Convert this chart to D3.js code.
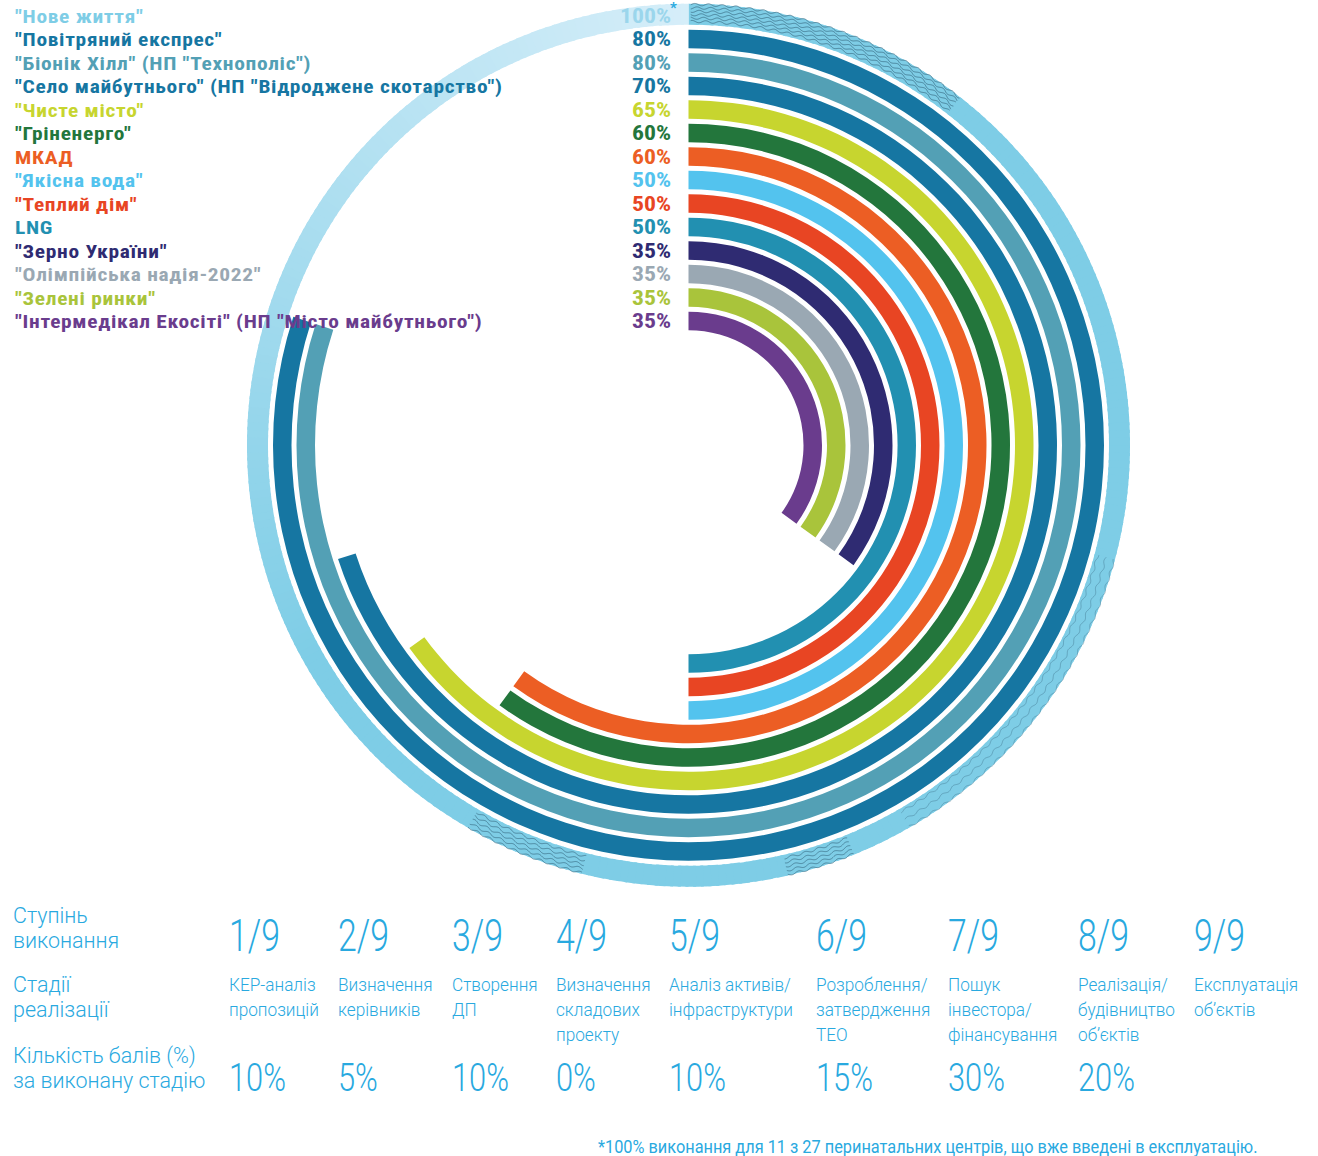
<!DOCTYPE html>
<html>
<head>
<meta charset="utf-8">
<title>Ступінь виконання проектів</title>
<script src="https://cdn.jsdelivr.net/npm/d3@7"></script>
<style>
  body { margin: 0; background: #fff; }
  svg { display: block; }
  .lbl { font-family: "Liberation Sans Narrow", "Roboto Condensed", "Liberation Sans", Arial, sans-serif; font-weight: bold; }
  .tbl { font-family: Roboto, "Liberation Sans Narrow", "Liberation Sans", sans-serif; font-weight: 300; fill: #29a9df; }
</style>
</head>
<body>
<script>
// ---- data ----
var projects = [
  '"Нове життя"',
  '"Повітряний експрес"',
  '"Біонік Хілл" (НП "Технополіс")',
  '"Село майбутнього" (НП "Відроджене скотарство")',
  '"Чисте місто"',
  '"Гріненерго"',
  'МКАД',
  '"Якісна вода"',
  '"Теплий дім"',
  'LNG',
  '"Зерно України"',
  '"Олімпійська надія-2022"',
  '"Зелені ринки"',
  '"Інтермедікал Екосіті" (НП "Місто майбутнього")'
];
var percents = [100, 80, 80, 70, 65, 60, 60, 50, 50, 50, 35, 35, 35, 35];
var colors = ["#7ecde6", "#1676a2", "#53a0b5", "#1676a2", "#c7d52f", "#23763c", "#ec5e24",
              "#53c3ee", "#e84523", "#2290b1", "#2f2b72", "#9aa8b3", "#a9c43b", "#6a3c8d"];

var rowTitles = [["Ступінь", "виконання"], ["Стадії", "реалізації"], ["Кількість балів (%)", "за виконану стадію"]];
var steps = ["1/9", "2/9", "3/9", "4/9", "5/9", "6/9", "7/9", "8/9", "9/9"];
var stages = [
  ["КЕР-аналіз", "пропозицій"],
  ["Визначення", "керівників"],
  ["Створення", "ДП"],
  ["Визначення", "складових", "проекту"],
  ["Аналіз активів/", "інфраструктури"],
  ["Розроблення/", "затвердження", "ТЕО"],
  ["Пошук", "інвестора/", "фінансування"],
  ["Реалізація/", "будівництво", "об’єктів"],
  ["Експлуатація", "об’єктів"]
];
var stagePoints = ["10%", "5%", "10%", "0%", "10%", "15%", "30%", "20%", ""];
var footnote = "*100% виконання для 11 з 27 перинатальних центрів, що вже введені в експлуатацію.";

// ---- layout ----
var W = 1318, H = 1156;
var cx = 688.5, cy = 445.25;
var band = 18.5;
var colX = [229, 338, 452, 556, 669, 816, 948, 1078, 1194];

var svg = d3.select("body").append("svg").attr("width", W).attr("height", H);
svg.append("rect").attr("width", W).attr("height", H).attr("fill", "#fff");

var angle = d3.scaleLinear().domain([0, 100]).range([0, 2 * Math.PI]);
var radius = d3.scalePoint().domain(projects).range([429.75, 124.25]);

var chart = svg.append("g").attr("transform", "translate(" + cx + "," + cy + ")");

// outer ring (100%) drawn as small pieces so it can fade towards the end
var outerR = radius(projects[0]);
var fade = d3.interpolateRgb("#7ecde6", "#d6eef9");
var ringArc = d3.arc().innerRadius(outerR - 9.25).outerRadius(outerR + 11.75);
var pieces = d3.range(0, 360, 1);
chart.append("g").selectAll("path").data(pieces).join("path")
  .attr("d", function (d) {
    return ringArc({ startAngle: angle(d / 3.6), endAngle: Math.min(angle((d + 1.4) / 3.6), 2 * Math.PI) });
  })
  .attr("fill", function (d) {
    var t = Math.max(0, Math.min(1, (d - 240) / 120));
    return fade(t);
  });

// print texture on the outer ring
var textures = [[0.3, 38, 6, 0.85], [105, 150, 3, 0.45], [158, 167, 5, 0.8], [194, 210, 5, 0.8]];
var line = d3.line();
textures.forEach(function (t) {
  var a0 = t[0] * Math.PI / 180, a1 = t[1] * Math.PI / 180;
  for (var k = 0; k < t[2]; k++) {
    var r = outerR - 6 + k * (17 / Math.max(1, t[2] - 1));
    var pts = d3.range(a0, a1, 0.6 / r).map(function (a) {
      var rr = r + 1.1 * Math.sin(a * r / 2.2 + k);
      return [rr * Math.sin(a), -rr * Math.cos(a)];
    });
    chart.append("path").attr("d", line(pts))
      .attr("fill", "none").attr("stroke", "#3b6e86")
      .attr("stroke-width", 0.9).attr("opacity", t[3]);
  }
});

// project arcs
var arc = d3.arc()
  .innerRadius(function (d) { return radius(d.name) - band / 2; })
  .outerRadius(function (d) { return radius(d.name) + band / 2; })
  .startAngle(0)
  .endAngle(function (d) { return angle(d.value); });

var rows = projects.map(function (p, i) { return { name: p, value: percents[i], color: colors[i] }; });

chart.append("g").selectAll("path").data(rows.slice(1)).join("path")
  .attr("d", arc)
  .attr("fill", function (d) { return d.color; });

// labels
var labelG = svg.append("g").attr("class", "lbl");
var nameG = labelG.selectAll("g.name").data(rows).join("g").attr("class", "name");
nameG.append("text")
  .attr("font-size", 19)
  .attr("letter-spacing", 0.6)
  .attr("fill", function (d) { return d.color; })
  .text(function (d) { return d.name; });

var pctG = labelG.selectAll("g.pct").data(rows).join("g").attr("class", "pct");
pctG.append("text")
  .attr("font-size", 20.5)
  .attr("text-anchor", "end")
  .attr("fill", function (d, i) { return i === 0 ? "#9bd6ec" : d.color; })
  .text(function (d) { return d.value + "%"; });

// squeeze label fonts to the original condensed width
var longest = nameG.filter(function (d, i) { return i === 3; }).select("text").node().getComputedTextLength();
var kName = 488 / longest;
var kPct = 51 / pctG.filter(function (d, i) { return i === 0; }).select("text").node().getComputedTextLength();

nameG.attr("transform", function (d) {
  return "translate(15," + (cy - radius(d.name) + 7) + ") scale(" + kName + ",1)";
});
pctG.attr("transform", function (d) {
  return "translate(671," + (cy - radius(d.name) + 7.4) + ") scale(" + kPct + ",1)";
});

labelG.append("text").attr("x", 670).attr("y", 13).attr("font-size", 15)
  .attr("fill", "#29a9df").text("*");

// ---- table ----
var tbl = svg.append("g").attr("class", "tbl");

// row titles
var titleBase = [923, 992, 1063];
var titleG = tbl.append("g");
rowTitles.forEach(function (t, i) {
  t.forEach(function (s, j) {
    titleG.append("text").attr("font-size", 22).attr("y", titleBase[i] + j * 25).text(s);
  });
});
var kTitle = 183 / titleG.selectAll("text").filter(function () { return this.textContent === rowTitles[2][0]; }).node().getComputedTextLength();
titleG.attr("transform", "translate(13,0) scale(" + kTitle + ",1)");

// steps
var stepG = tbl.append("g");
var stepT = stepG.selectAll("text").data(steps).join("text")
  .attr("font-size", 45).attr("y", 951).text(function (d) { return d; });
var kStep = 51 / stepT.node().getComputedTextLength();
stepT.attr("transform", function (d, i) { return "translate(" + colX[i] + ",0) scale(" + kStep + ",1)"; });

// stage names
var stageG = tbl.append("g");
var stageCol = stageG.selectAll("g").data(stages).join("g");
stageCol.selectAll("text").data(function (d) { return d; }).join("text")
  .attr("font-size", 19).attr("y", function (d, j) { return 991 + j * 25; })
  .text(function (d) { return d; });
var kStage = 124 / stageCol.filter(function (d, i) { return i === 4; }).selectAll("text")
  .filter(function (d, j) { return j === 1; }).node().getComputedTextLength();
stageCol.attr("transform", function (d, i) { return "translate(" + colX[i] + ",0) scale(" + kStage + ",1)"; });

// points per stage
var ptsG = tbl.append("g");
var ptsT = ptsG.selectAll("text").data(stagePoints).join("text")
  .attr("font-size", 38).attr("y", 1091).text(function (d) { return d; });
var kPts = 57 / ptsT.node().getComputedTextLength();
ptsT.attr("transform", function (d, i) { return "translate(" + colX[i] + ",0) scale(" + kPts + ",1)"; });

// footnote
var fn = tbl.append("text").attr("font-size", 18).attr("font-weight", 400).attr("y", 1153).text(footnote);
var kFn = 660 / fn.node().getComputedTextLength();
fn.attr("transform", "translate(598,0) scale(" + kFn + ",1)");
</script>
</body>
</html>
